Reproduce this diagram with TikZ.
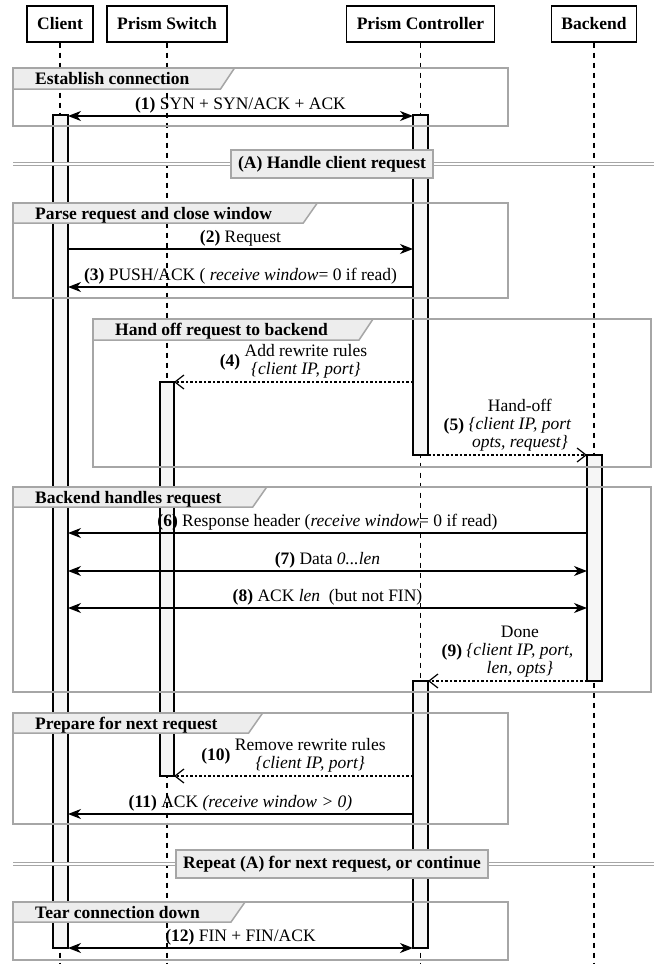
\documentclass[tikz,border=0pt]{standalone}
\usepackage{fontspec}
\setmainfont{Liberation Serif}
\usetikzlibrary{arrows.meta,calc}
\definecolor{frmgray}{HTML}{A6A6A6}
\definecolor{tabgray}{HTML}{EDEDED}
\definecolor{actfill}{HTML}{F6F6F6}
\pgfdeclarelayer{bg}
\pgfdeclarelayer{mid}
\pgfsetlayers{bg,mid,main}
\begin{document}
\begin{tikzpicture}[x=1pt,y=-1pt,
  font=\fontsize{17.5}{18}\selectfont,
  head/.style={draw, line width=1.4pt, fill=white, font=\fontsize{17.5}{18}\selectfont\bfseries, minimum height=36pt, inner xsep=10pt, inner ysep=0pt},
  life/.style={line width=1.2pt, dash pattern=on 5pt off 5pt},
  actbox/.style={draw, line width=1.3pt, fill=actfill},
  frm/.style={draw=frmgray, line width=1.5pt},
  tabshape/.style={fill=tabgray, draw=frmgray, line width=1.5pt},
  tabtxt/.style={inner sep=0pt, anchor=base west, font=\fontsize{17.5}{18}\selectfont\bfseries},
  divline/.style={draw=frmgray, line width=1.2pt, double=white, double distance=2.5pt},
  divbox/.style={draw=frmgray, line width=1.5pt, fill=tabgray, font=\fontsize{17.5}{18}\selectfont\bfseries, minimum height=28pt, inner xsep=7pt, inner ysep=0pt},
  msg/.style={line width=1.3pt, -{Stealth[length=13pt,width=10pt,inset=4pt]}},
  dmsg/.style={line width=1.3pt, {Stealth[length=13pt,width=10pt,inset=4pt]}-{Stealth[length=13pt,width=10pt,inset=4pt]}},
  rmsg/.style={line width=1.2pt, dash pattern=on 2.5pt off 2pt, -{Straight Barb[length=9pt,width=14pt,line width=1.2pt]}},
  lbl/.style={inner sep=0pt, anchor=base},
  mlbl/.style={inner sep=0pt, anchor=south},
]
\useasboundingbox (0,0) rectangle (654,964);

% participants
\node[head] (hC) at (60,24) {Client};
\node[head] (hS) at (167,24) {Prism Switch};
\node[head] (hK) at (420.5,24) {Prism Controller};
\node[head] (hB) at (594,24) {Backend};
\coordinate (eC) at (60,964);
\coordinate (eS) at (167,964);
\coordinate (eK) at (420.5,964);
\coordinate (eB) at (594,964);

\begin{pgfonlayer}{bg}
  \draw[life] (hC.south) -- (eC);
  \draw[life] (hS.south) -- (eS);
  \draw[life] (hK.south) -- (eK);
  \draw[life] (hB.south) -- (eB);
  % activations
  \draw[actbox] (53,115) rectangle (68,948);
  \draw[actbox] (413,115) rectangle (428,455);
  \draw[actbox] (160,382) rectangle (174,776);
  \draw[actbox] (587,455) rectangle (602,681);
  \draw[actbox] (413,681) rectangle (428,948);
  % frames
  \draw[frm] (13,68) rectangle (508,126);
  \draw[frm] (13,203) rectangle (508,298);
  \draw[frm] (93,319) rectangle (651,467);
  \draw[frm] (13,487) rectangle (651,692);
  \draw[frm] (13,713) rectangle (508,824);
  \draw[frm] (13,902) rectangle (508,960);
\end{pgfonlayer}

% tab titles
\node[tabtxt] (t1) at (35,84.5) {Establish connection};
\node[tabtxt] (t2) at (35,219) {Parse request and close window};
\node[tabtxt] (t3) at (115,335.5) {Hand off request to backend};
\node[tabtxt] (t4) at (35,503) {Backend handles request};
\node[tabtxt] (t5) at (35,729) {Prepare for next request};
\node[tabtxt] (t6) at (35,918) {Tear connection down};
\begin{pgfonlayer}{mid}
  \path[tabshape] (13,68) -- ($(t1.east|-0,68)+(45,0)$) -- ($(t1.east|-0,89)+(31,0)$) -- (13,89) -- cycle;
  \path[tabshape] (13,203) -- ($(t2.east|-0,203)+(45,0)$) -- ($(t2.east|-0,223)+(31,0)$) -- (13,223) -- cycle;
  \path[tabshape] (93,319) -- ($(t3.east|-0,319)+(45,0)$) -- ($(t3.east|-0,340)+(31,0)$) -- (93,340) -- cycle;
  \path[tabshape] (13,487) -- ($(t4.east|-0,487)+(45,0)$) -- ($(t4.east|-0,507)+(31,0)$) -- (13,507) -- cycle;
  \path[tabshape] (13,713) -- ($(t5.east|-0,713)+(45,0)$) -- ($(t5.east|-0,733)+(31,0)$) -- (13,733) -- cycle;
  \path[tabshape] (13,902) -- ($(t6.east|-0,902)+(45,0)$) -- ($(t6.east|-0,922)+(31,0)$) -- (13,922) -- cycle;
  % dividers
  \draw[divline] (13,164) -- (654,164);
  \draw[divline] (13,864) -- (654,864);
\end{pgfonlayer}
\node[divbox] (dA) at (332,164) {(A) Handle client request};
\node[divbox] (dR) at (332,864) {Repeat (A) for next request, or continue};

% message end points
\coordinate (m1a) at (68,116);  \coordinate (m1b) at (413,116);
\coordinate (m2a) at (68,249);  \coordinate (m2b) at (413,249);
\coordinate (m3a) at (413,287); \coordinate (m3b) at (68,287);
\coordinate (m4a) at (413,382); \coordinate (m4b) at (174,382);
\coordinate (m5a) at (428,455); \coordinate (m5b) at (587,455);
\coordinate (m6a) at (587,533); \coordinate (m6b) at (68,533);
\coordinate (m7a) at (68,571);  \coordinate (m7b) at (587,571);
\coordinate (m8a) at (68,608);  \coordinate (m8b) at (587,608);
\coordinate (m9a) at (587,681); \coordinate (m9b) at (428,681);
\coordinate (m10a) at (413,776); \coordinate (m10b) at (174,776);
\coordinate (m11a) at (413,814); \coordinate (m11b) at (68,814);
\coordinate (m12a) at (68,948); \coordinate (m12b) at (413,948);

\draw[dmsg] (m1a) -- (m1b);
\draw[msg] (m2a) -- (m2b);
\draw[msg] (m3a) -- (m3b);
\draw[rmsg] (m4a) -- (m4b);
\draw[rmsg] (m5a) -- (m5b);
\draw[msg] (m6a) -- (m6b);
\draw[dmsg] (m7a) -- (m7b);
\draw[dmsg] (m8a) -- (m8b);
\draw[rmsg] (m9a) -- (m9b);
\draw[rmsg] (m10a) -- (m10b);
\draw[msg] (m11a) -- (m11b);
\draw[dmsg] (m12a) -- (m12b);

% labels
\node[lbl] (l1) at (240.5,109) {\textbf{(1)} SYN + SYN/ACK + ACK};
\node[lbl] (l2) at (240.5,242) {\textbf{(2)} Request};
\node[lbl] (l3) at (240.5,280) {\textbf{(3)} PUSH/ACK ( \textit{receive window}= 0 if read)};
\node[mlbl] (l4) at (293.5,380) {\textbf{(4)} \begin{tabular}{@{}c@{}}Add rewrite rules\\\textit{\{client IP, port\}}\end{tabular}};
\node[mlbl] (l5) at (507.5,453) {\textbf{(5)} \begin{tabular}{@{}c@{}}Hand-off\\\textit{\{client IP, port}\\\textit{opts, request\}}\end{tabular}};
\node[lbl] (l6) at (327.5,526) {\textbf{(6)} Response header (\textit{receive window}= 0 if read)};
\node[lbl] (l7) at (327.5,564) {\textbf{(7)} Data \textit{0...len}};
\node[lbl] (l8) at (327.5,601) {\textbf{(8)} ACK \textit{len}\ \ (but not FIN)};
\node[mlbl] (l9) at (507.5,679) {\textbf{(9)} \begin{tabular}{@{}c@{}}Done\\\textit{\{client IP, port,}\\\textit{len, opts\}}\end{tabular}};
\node[mlbl] (l10) at (293.5,774) {\textbf{(10)} \begin{tabular}{@{}c@{}}Remove rewrite rules\\\textit{\{client IP, port\}}\end{tabular}};
\node[lbl] (l11) at (240.5,807) {\textbf{(11)} ACK \textit{(receive window > 0)}};
\node[lbl] (l12) at (240.5,941) {\textbf{(12)} FIN + FIN/ACK};
\end{tikzpicture}
\end{document}
